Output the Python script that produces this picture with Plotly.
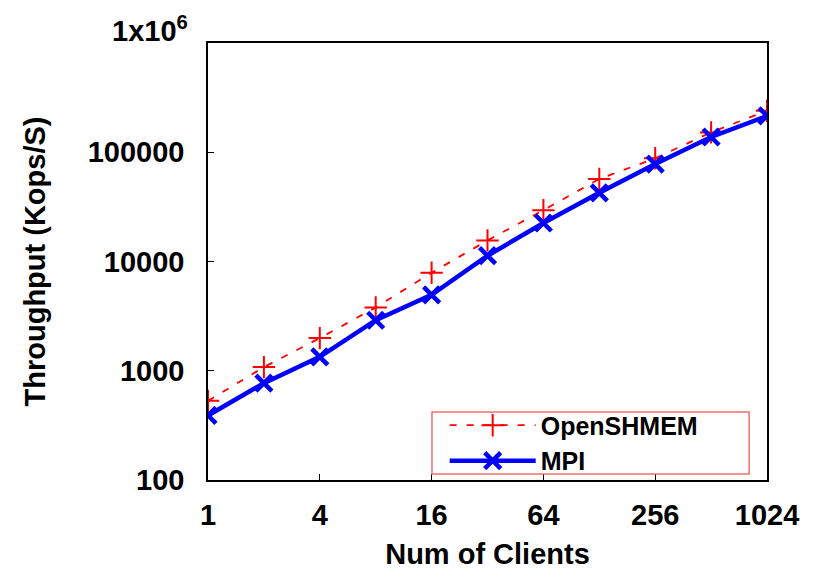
import plotly.graph_objects as go

clients = [1, 2, 4, 8, 16, 32, 64, 128, 256, 512, 1024]
openshmem = [530, 1080, 1990, 3800, 7900, 15600, 29500, 57000, 88000, 152000, 240000]
mpi = [390, 770, 1340, 2900, 4950, 11300, 22500, 42500, 78000, 138000, 215000]

x_ticks = [1, 4, 16, 64, 256, 1024]
y_ticks = [100, 1000, 10000, 100000]
y_tick_text = ["100", "1000", "10000", "100000"]
top_label = "1x10<sup>6</sup>"

FONT = "Liberation Sans"
FS = 29

fig = go.Figure()
fig.add_trace(go.Scatter(
    x=clients, y=openshmem, name="OpenSHMEM", mode="lines+markers",
    line=dict(color="#ff0000", width=1.8, dash="7px,10px"),
    marker=dict(symbol="cross-thin", size=16, line=dict(color="#ff0000", width=2)),
))
fig.add_trace(go.Scatter(
    x=clients, y=mpi, name="MPI", mode="lines+markers",
    line=dict(color="#0000ff", width=4.5),
    marker=dict(symbol="x-thin", size=16, line=dict(color="#0000ff", width=4.5)),
))

fig.update_layout(
    width=818, height=570,
    margin=dict(l=208, r=51, t=43, b=90),
    plot_bgcolor="white", paper_bgcolor="white",
    font=dict(family=FONT, size=FS, color="black", weight="bold"),
    showlegend=True,
    legend=dict(
        x=0.4234, y=0.1775, xanchor="left", yanchor="top",
        bgcolor="rgba(255,255,255,0)", borderwidth=0,
        font=dict(family=FONT, size=25, color="black", weight="bold"),
        itemwidth=86, tracegroupgap=0,
    ),
    shapes=[dict(type="rect", xref="paper", yref="paper",
                 x0=0.4007, x1=0.968, y0=0.0137, y1=0.1556,
                 line=dict(color="#f07070", width=1.5))],
    annotations=[dict(text=top_label, xref="paper", yref="y", x=0, y=6,
                      xanchor="right", yanchor="middle", xshift=-18, yshift=14,
                      showarrow=False, font=dict(family=FONT, size=FS, weight="bold"))],
)
fig.update_xaxes(
    type="log", range=[0, 3.0103], tickvals=x_ticks, ticktext=[str(v) for v in x_ticks],
    showgrid=False, zeroline=False, showline=True, linecolor="black", linewidth=1.5,
    mirror=True, ticks="inside", ticklen=6, tickcolor="black",
    ticklabelstandoff=8, automargin=False,
    title=dict(text="Num of Clients", standoff=16, font=dict(size=FS, weight="bold")),
)
fig.update_yaxes(
    type="log", range=[2, 6], tickvals=y_ticks, ticktext=y_tick_text,
    showgrid=False, zeroline=False, showline=True, linecolor="black", linewidth=1.5,
    mirror=True, ticks="inside", ticklen=6, tickcolor="black",
    ticklabelstandoff=16, automargin=False,
    title=dict(text="Throughput (Kops/S)", standoff=34, font=dict(size=FS, weight="bold")),
)

fig.write_html("out.html")
